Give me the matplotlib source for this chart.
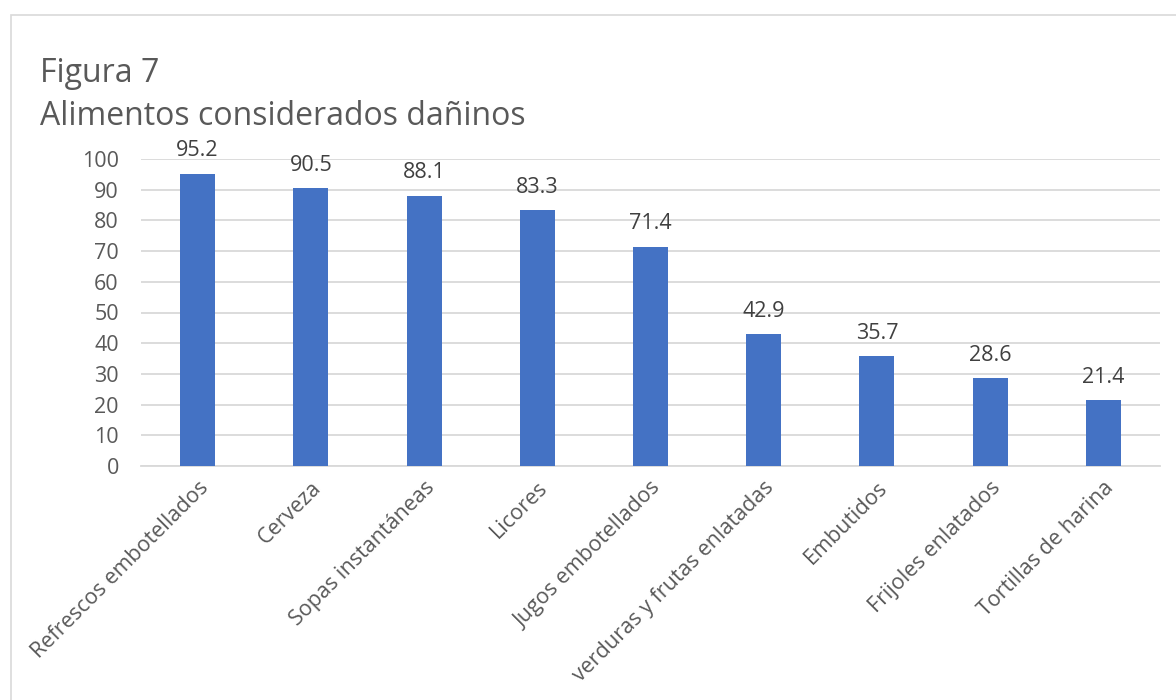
import matplotlib
matplotlib.use("Agg")
import matplotlib.pyplot as plt
from matplotlib.patches import Rectangle

categories = ["Refrescos embotellados", "Cerveza", "Sopas instantáneas", "Licores",
              "Jugos embotellados", "verduras y frutas enlatadas", "Embutidos",
              "Frijoles enlatados", "Tortillas de harina"]
values = [95.2, 90.5, 88.1, 83.3, 71.4, 42.9, 35.7, 28.6, 21.4]
yticks = [0, 10, 20, 30, 40, 50, 60, 70, 80, 90, 100]
title_lines = ["Figura 7", "Alimentos considerados dañinos"]

plt.rcParams['font.family'] = ['Open Sans', 'DejaVu Sans']
TXT = '#595959'
BAR = '#4472C4'
GRID = '#D9D9D9'

fig = plt.figure(figsize=(11.76, 7.0), dpi=100)
fig.patches.append(Rectangle((11/1176, -0.05), 1.2, 1 - 15/700 + 0.05,
                             transform=fig.transFigure, fill=False,
                             edgecolor='#D9D9D9', linewidth=1.2))

ax = fig.add_axes([141/1176, 1 - 466/700, (1160 - 141)/1176, (466 - 159)/700])
x = list(range(len(categories)))
ax.bar(x, values, width=0.31, color=BAR, zorder=3)
ax.set_xlim(-0.5, len(categories) - 0.5)
ax.set_ylim(0, 100)
ax.set_yticks(yticks)
ax.set_yticklabels([str(v) for v in yticks], fontsize=15.5, color=TXT)
ax.yaxis.grid(True, color=GRID, linewidth=1.3, zorder=0)
ax.set_axisbelow(True)
for s in ['top', 'right', 'left']:
    ax.spines[s].set_visible(False)
ax.spines['bottom'].set_color(GRID)
ax.spines['bottom'].set_linewidth(1.3)
ax.tick_params(axis='both', length=0)
ax.tick_params(axis='y', pad=16)
ax.set_xticks(x)
ax.set_xticklabels(categories, rotation=45, ha='right', rotation_mode='anchor',
                   fontsize=15.5, color=TXT)
ax.tick_params(axis='x', pad=8)

for xi, v in zip(x, values):
    ax.annotate(f"{v:.1f}", (xi, v), xytext=(0, 9), textcoords='offset points',
                ha='center', va='bottom', fontsize=15.5, color='#404040')

fig.text(40/1176, 1 - 82/700, title_lines[0], fontsize=23, color=TXT, ha='left', va='baseline')
fig.text(40/1176, 1 - 125/700, title_lines[1], fontsize=23, color=TXT, ha='left', va='baseline')

fig.savefig("out.png", dpi=100)
